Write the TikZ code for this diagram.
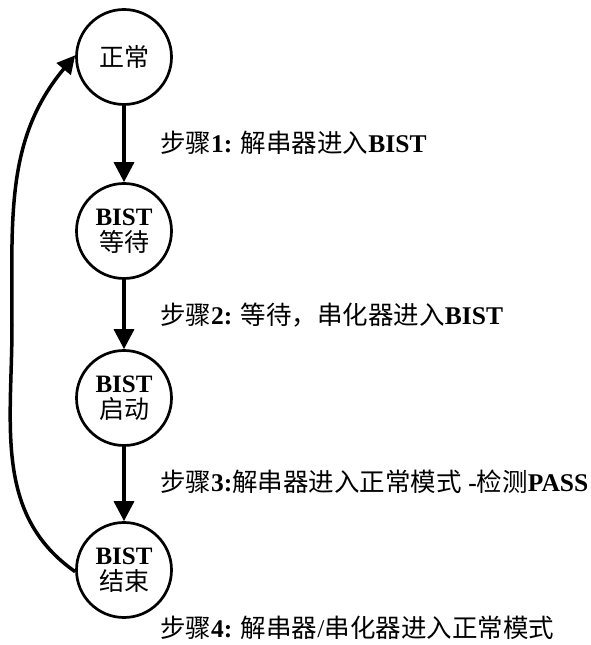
\documentclass[tikz,border=0pt]{standalone}
\usepackage{fontspec}
\setmainfont{Liberation Serif}
\newfontfamily\cjk{Noto Sans CJK SC}
\usetikzlibrary{arrows.meta, positioning}
\tikzstyle{statenode} = [draw, circle, line width=2.7pt, minimum size=95pt, inner sep=0pt, align=center, font=\fontsize{25}{26}\selectfont]
\tikzstyle{arrow} = [line width=3.5pt, -{Triangle[length=20pt,width=20pt]}]
\tikzstyle{looparrow} = [line width=3.5pt, line join=round, -{Triangle[length=18pt,width=18pt]}]
\tikzstyle{steplabel} = [anchor=west, inner sep=0pt, font=\fontsize{25.5}{27}\selectfont]

\begin{document}
\begin{tikzpicture}[x=1pt,y=1pt]
    \useasboundingbox (0,0) rectangle (590,645);
    \node[statenode] (normal) at (124,588) {\cjk 正常};
    \node[statenode] (wait)   at (124,414) {\textbf{BIST}\\{\cjk 等待}};
    \node[statenode] (start)  at (124,247) {\textbf{BIST}\\{\cjk 启动}};
    \node[statenode] (done)   at (124,75)  {\textbf{BIST}\\{\cjk 结束}};
    \draw[arrow] (normal) -- (wait);
    \draw[arrow] (wait) -- (start);
    \draw[arrow] (start) -- (done);
    \node[steplabel] (s1) at (160,502) {{\cjk 步骤}\textbf{1:} {\cjk 解串器进入}\textbf{BIST}};
    \node[steplabel] (s2) at (160,330) {{\cjk 步骤}\textbf{2:} {\cjk 等待，串化器进入}\textbf{BIST}};
    \node[steplabel] (s3) at (160,163) {{\cjk 步骤}\textbf{3:}{\cjk 解串器进入正常模式} \textbf{-}{\cjk 检测}\textbf{PASS}};
    \node[steplabel] (s4) at (160,17)  {{\cjk 步骤}\textbf{4:} {\cjk 解串器}/{\cjk 串化器进入正常模式}};
    \coordinate (bend) at (12,320);
    \draw[looparrow] (done.182) to[out=145,in=-90] (bend) to[out=90,in=-130] (normal.178);
\end{tikzpicture}
\end{document}
